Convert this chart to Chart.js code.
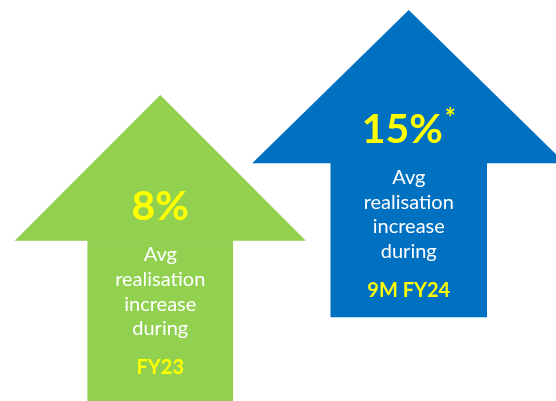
<!DOCTYPE html>
<html>
<head>
<meta charset="utf-8">
<script src="https://cdn.jsdelivr.net/npm/chart.js@4.4.1/dist/chart.umd.min.js"></script>
<style>
  html, body { margin: 0; padding: 0; background: #fff; }
  #wrap { width: 556px; height: 401px; position: relative; }
</style>
</head>
<body>
<div id="wrap"><canvas id="myChart"></canvas></div>
<script>
// datos del grafico
const labels = ['FY23', '9M FY24'];
const increase = [8, 15];
const marks = ['', '*'];
const caption = ['Avg', 'realisation', 'increase', 'during'];
// altura de las flechas (escala y 0-100)
const arrowBase = [0, 20.9];
const headBase = [40.1, 59.4];
const arrowTip = [76.3, 97.5];
const colores = ['#92D050', '#0070C0'];

const FONT = 'Lato, "Open Sans", sans-serif';

// dibuja la punta de flecha y los textos sobre cada barra
const arrowPlugin = {
    id: 'arrows',
    afterDatasetsDraw(chart) {
        const ctx = chart.ctx;
        const y = chart.scales.y;
        chart.data.datasets.forEach((ds, d) => {
            const bar = chart.getDatasetMeta(d).data[d];
            if (!bar) return;
            const cx = bar.x;
            const half = bar.width;           // punta = 2x ancho del cuerpo
            const yBase = y.getPixelForValue(headBase[d]);
            const yTip = y.getPixelForValue(arrowTip[d]);

            ctx.save();
            ctx.fillStyle = colores[d];
            ctx.beginPath();
            ctx.moveTo(cx - half, yBase + 0.5);
            ctx.lineTo(cx, yTip);
            ctx.lineTo(cx + half, yBase + 0.5);
            ctx.closePath();
            ctx.fill();

            // valor grande
            ctx.fillStyle = '#FFFF00';
            ctx.textBaseline = 'middle';
            ctx.font = 'bold 41px ' + FONT;
            const txt = increase[d] + '%';
            const w1 = ctx.measureText(txt).width;
            ctx.font = 'bold 26px ' + FONT;
            const w2 = marks[d] ? ctx.measureText(marks[d]).width + 2 : 0;
            const x0 = cx - (w1 + w2) / 2;
            ctx.textAlign = 'left';
            ctx.font = 'bold 41px ' + FONT;
            ctx.fillText(txt, x0, yBase - 33);
            if (marks[d]) {
                ctx.font = 'bold 26px ' + FONT;
                ctx.fillText(marks[d], x0 + w1 + 2, yBase - 44);
            }

            // texto
            ctx.textAlign = 'center';
            ctx.textBaseline = 'alphabetic';
            ctx.fillStyle = '#FFFFFF';
            ctx.font = '20px ' + FONT;
            caption.forEach((line, i) => {
                ctx.fillText(line, cx, yBase + 21 + i * 24.7);
            });

            ctx.fillStyle = '#FFFF00';
            ctx.font = 'bold 20px ' + FONT;
            ctx.fillText(labels[d], cx, yBase + 134);
            ctx.restore();
        });
    }
};

const ctx = document.getElementById('myChart').getContext('2d');
new Chart(ctx, {
    type: 'bar',
    data: {
        labels: labels,
        datasets: [{
            data: [[arrowBase[0], headBase[0]], null],
            backgroundColor: colores[0],
            borderWidth: 0,
            barPercentage: 0.586,
            categoryPercentage: 1
        }, {
            data: [null, [arrowBase[1], headBase[1]]],
            backgroundColor: colores[1],
            borderWidth: 0,
            barPercentage: 0.63,
            categoryPercentage: 1
        }]
    },
    options: {
        responsive: true,
        maintainAspectRatio: false,
        animation: false,
        layout: { padding: { left: 36, right: 23, top: 0, bottom: 0 } },
        plugins: {
            legend: { display: false },
            tooltip: { enabled: false }
        },
        scales: {
            x: { display: false, offset: true },
            y: { display: false, min: 0, max: 100 }
        },
        datasets: { bar: { grouped: false } }
    },
    plugins: [arrowPlugin]
});
</script>
</body>
</html>
